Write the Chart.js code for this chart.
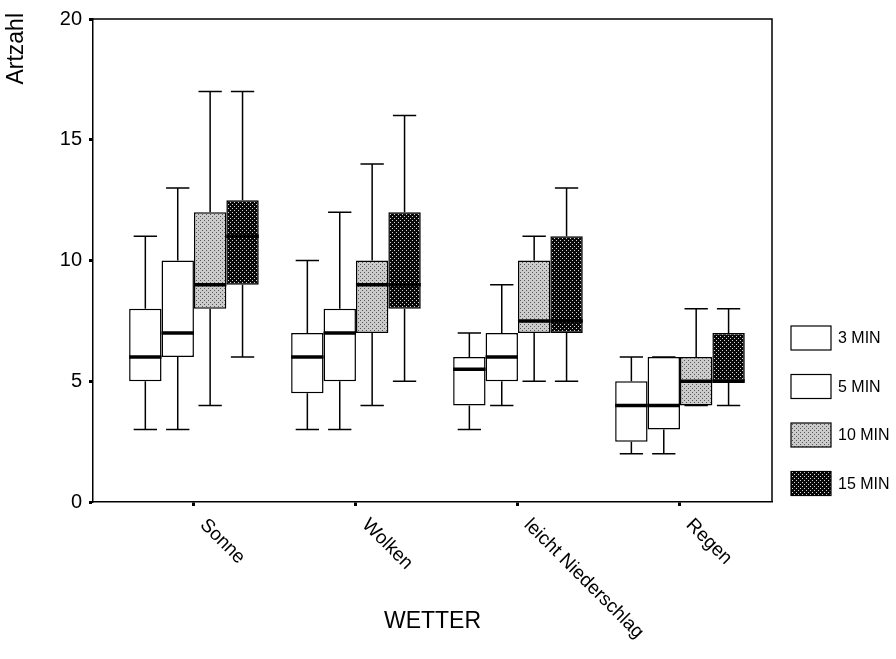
<!DOCTYPE html>
<html>
<head>
<meta charset="utf-8">
<title>Artzahl nach Wetter</title>
<script src="https://cdn.jsdelivr.net/npm/chart.js@4/dist/chart.umd.min.js"></script>
<style>
    html, body { margin: 0; padding: 0; background: #fff; }
    #wrap { width: 896px; height: 659px; position: relative; }
</style>
</head>
<body>
<div id="wrap"><canvas id="box-chart"></canvas></div>
<script>
// Boxplot: Artzahl by weather, one box per count interval

const categories = ['Sonne', 'Wolken', 'leicht Niederschlag', 'Regen'];
const seriesNames = ['3 MIN', '5 MIN', '10 MIN', '15 MIN'];
const yTicks = [0, 5, 10, 15, 20];

// one row per series, one column per category
const lowWhisker    = [[3, 3, 3, 2], [3, 3, 4, 2], [4, 4, 5, 4], [6, 5, 5, 4]];
const lowerQuartile = [[5, 4.5, 4, 2.5], [6, 5, 5, 3], [8, 7, 7, 4], [9, 8, 7, 5]];
const medians       = [[6, 6, 5.5, 4], [7, 7, 6, 4], [9, 9, 7.5, 5], [11, 9, 7.5, 5]];
const upperQuartile = [[8, 7, 6, 5], [10, 8, 7, 6], [12, 10, 10, 6], [12.5, 12, 11, 7]];
const highWhisker   = [[11, 10, 7, 6], [13, 12, 9, 6], [17, 14, 11, 8], [17, 16, 13, 8]];

const FONT = 'Arial, "Liberation Sans", sans-serif';

function makePattern(base, dot, dots) {
    const c = document.createElement('canvas');
    c.width = 4;
    c.height = 4;
    const g = c.getContext('2d');
    g.fillStyle = base;
    g.fillRect(0, 0, 4, 4);
    g.fillStyle = dot;
    dots.forEach(p => g.fillRect(p[0], p[1], 1, 1));
    return g.createPattern(c, 'repeat');
}

const fills = [
    '#ffffff',
    '#ffffff',
    makePattern('#cbcbcb', '#555555', [[0, 0], [2, 2]]),
    makePattern('#080808', '#d8d8d8', [[0, 0], [2, 2]])
];

const boxplotPlugin = {
    id: 'boxplotExtras',
    afterDatasetsDraw(chart) {
        const ctx = chart.ctx;
        const y = chart.scales.y;
        ctx.save();
        ctx.strokeStyle = '#000';
        chart.data.datasets.forEach((ds, d) => {
            const meta = chart.getDatasetMeta(d);
            meta.data.forEach((bar, i) => {
                const x = bar.x;
                const half = bar.width / 2;
                const cap = bar.width * 0.36;
                const q1 = y.getPixelForValue(lowerQuartile[d][i]);
                const q3 = y.getPixelForValue(upperQuartile[d][i]);
                const lo = y.getPixelForValue(lowWhisker[d][i]);
                const hi = y.getPixelForValue(highWhisker[d][i]);
                ctx.lineWidth = 1.5;
                ctx.beginPath();
                ctx.moveTo(x, q3); ctx.lineTo(x, hi);
                ctx.moveTo(x - cap, hi); ctx.lineTo(x + cap, hi);
                ctx.moveTo(x, q1); ctx.lineTo(x, lo);
                ctx.moveTo(x - cap, lo); ctx.lineTo(x + cap, lo);
                ctx.stroke();
                const m = y.getPixelForValue(medians[d][i]);
                ctx.lineWidth = 3.5;
                ctx.beginPath();
                ctx.moveTo(x - half, m); ctx.lineTo(x + half, m);
                ctx.stroke();
            });
        });
        ctx.restore();
    },
    afterDraw(chart) {
        const ctx = chart.ctx;
        const area = chart.chartArea;
        const xs = chart.scales.x;
        ctx.save();
        // top and right frame
        ctx.strokeStyle = '#000';
        ctx.lineWidth = 1.5;
        ctx.beginPath();
        ctx.moveTo(area.left, area.top);
        ctx.lineTo(area.right, area.top);
        ctx.lineTo(area.right, area.bottom);
        ctx.stroke();

        ctx.fillStyle = '#000';
        // slanted category labels
        ctx.font = '19px ' + FONT;
        ctx.textAlign = 'left';
        ctx.textBaseline = 'middle';
        categories.forEach((name, i) => {
            const px = xs.getPixelForValue(i);
            ctx.save();
            ctx.translate(px + 9, area.bottom + 20);
            ctx.rotate(Math.PI / 4);
            ctx.fillText(name, 0, 0);
            ctx.restore();
        });

        // axis titles
        ctx.font = '23px ' + FONT;
        ctx.textAlign = 'center';
        ctx.fillText('WETTER', (area.left + area.right) / 2, 622);
        ctx.save();
        ctx.translate(17, 13);
        ctx.rotate(-Math.PI / 2);
        ctx.textAlign = 'right';
        ctx.fillText('Artzahl', 0, 0);
        ctx.restore();

        // legend
        ctx.font = '16px ' + FONT;
        ctx.textAlign = 'left';
        seriesNames.forEach((name, d) => {
            const cy = 338 + d * 48.5;
            ctx.fillStyle = fills[d];
            ctx.fillRect(791, cy - 12, 40, 24);
            ctx.lineWidth = 1.2;
            ctx.strokeRect(791, cy - 12, 40, 24);
            ctx.fillStyle = '#000';
            ctx.fillText(name, 838, cy + 1);
        });
        ctx.restore();
    }
};

function loadBoxChart() {
    const canvas = document.getElementById('box-chart');
    const datasets = seriesNames.map((name, d) => ({
        label: name,
        data: categories.map((c, i) => ({ x: i, y: [lowerQuartile[d][i], upperQuartile[d][i]] })),
        backgroundColor: fills[d],
        borderColor: '#000',
        borderWidth: 1.5,
        borderSkipped: false,
        categoryPercentage: 0.8,
        barPercentage: 1
    }));

    new Chart(canvas, {
        type: 'bar',
        data: { datasets: datasets },
        options: {
            responsive: true,
            maintainAspectRatio: false,
            animation: false,
            events: [],
            layout: { padding: { top: 17, right: 124, left: 0, bottom: 0 } },
            plugins: {
                legend: { display: false },
                tooltip: { enabled: false }
            },
            scales: {
                x: {
                    type: 'linear',
                    min: -0.623,
                    max: 3.568,
                    offset: false,
                    afterFit: function(scale) { scale.height = 157; },
                    ticks: { display: false, stepSize: 1, includeBounds: false },
                    grid: { offset: false, drawOnChartArea: false, drawTicks: true, tickLength: 4, tickWidth: 3, tickColor: '#000' },
                    border: { display: true, color: '#000', width: 1.5 }
                },
                y: {
                    min: yTicks[0],
                    max: yTicks[yTicks.length - 1],
                    afterFit: function(scale) { scale.width = 93; },
                    afterBuildTicks: function(scale) { scale.ticks = yTicks.map(v => ({ value: v })); },
                    ticks: { color: '#000', padding: 7, font: { family: FONT, size: 20 } },
                    grid: { drawOnChartArea: false, drawTicks: true, tickLength: 4, tickWidth: 3, tickColor: '#000' },
                    border: { display: true, color: '#000', width: 1.5 }
                }
            }
        },
        plugins: [boxplotPlugin]
    });
}

document.addEventListener('DOMContentLoaded', loadBoxChart);
</script>
</body>
</html>
